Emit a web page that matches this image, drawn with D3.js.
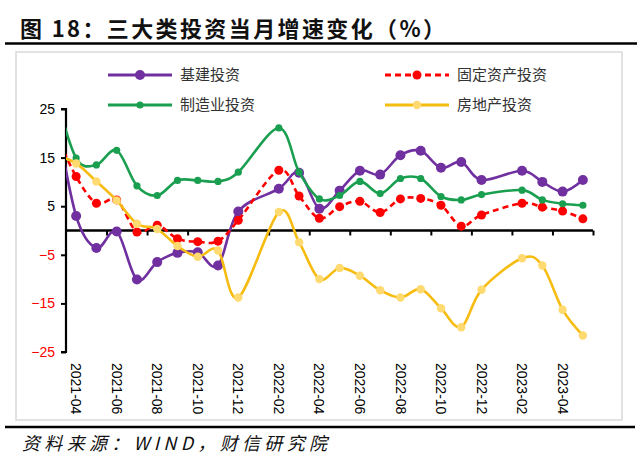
<!DOCTYPE html>
<html lang="zh">
<head>
<meta charset="UTF-8">
<title>三大类投资当月增速变化</title>
<script src="https://d3js.org/d3.v7.min.js"></script>
<style>
  body { margin: 0; background: #fff; }
  svg { display: block; }
</style>
</head>
<body>
<script>
    // months; 2021-03 sits left of the y axis and is clipped, as in the source chart
    const months = ["2021-03","2021-04","2021-05","2021-06","2021-07","2021-08","2021-09","2021-10","2021-11","2021-12",
        "2022-01","2022-02","2022-03","2022-04","2022-05","2022-06","2022-07","2022-08","2022-09","2022-10","2022-11","2022-12",
        "2023-01","2023-02","2023-03","2023-04","2023-05"];

    // single-month yoy growth, %  (January is not published -> null)
    const infra = [24, 3.0, -3.6, -0.2, -10.1, -6.5, -4.6, -4.5, -7.2, 3.9, null, 8.6, 11.9, 4.5, 8.2, 12.3, 11.5, 15.5, 16.4, 12.9, 14.1, 10.4, null, 12.3, 10.0, 8.0, 10.4];
    const fai = [20, 11.1, 5.6, 6.3, -0.3, 1.1, -1.7, -2.3, -2.2, 2.1, null, 12.4, 7.1, 2.5, 4.9, 6.0, 3.7, 6.5, 6.6, 5.2, 0.9, 3.2, null, 5.6, 4.8, 4.0, 2.4];
    const mfg = [28, 14.9, 13.5, 16.5, 9.2, 7.2, 10.3, 10.3, 10.1, 12.0, null, 21.1, 12.0, 6.5, 7.2, 10.1, 7.6, 10.7, 10.7, 7.0, 6.3, 7.4, null, 8.3, 6.3, 5.5, 5.2];
    const realEstate = [15.5, 13.8, 10.1, 6.2, 1.4, 0.3, -3.2, -5.4, -4.1, -13.8, null, 3.8, -2.4, -10.0, -7.7, -9.3, -12.3, -13.8, -12.1, -16.0, -19.9, -12.2, null, -5.7, -7.2, -16.3, -21.6];

    const seriesNames = ["基建投资", "固定资产投资", "制造业投资", "房地产投资"];
    const yTicks = [25, 15, 5, -5, -15, -25];
    const xLabelMonths = ["2021-04","2021-06","2021-08","2021-10","2021-12","2022-02","2022-04","2022-06","2022-08","2022-10","2022-12","2023-02","2023-04"];

    const series = [
        { name: seriesNames[0], values: infra, color: "#7030A0", marker: "#7030A0", r: 5, dash: null },
        { name: seriesNames[1], values: fai, color: "#FF0000", marker: "#FF0000", r: 4.5, dash: "6,4" },
        { name: seriesNames[2], values: mfg, color: "#1A9F50", marker: "#1A9F50", r: 3.6, dash: null },
        { name: seriesNames[3], values: realEstate, color: "#F6BC12", marker: "#FFDA70", r: 4.2, dash: null }
    ];

    const W = 640, H = 461;
    const svg = d3.select("body").append("svg")
        .attr("width", W)
        .attr("height", H);

    const cjk = "'Noto Sans CJK SC', 'Noto Sans', sans-serif";
    const num = "'Liberation Sans', Arial, sans-serif";

    // title
    svg.append("text")
        .attr("x", 20).attr("y", 37)
        .attr("textLength", 425)
        .attr("lengthAdjust", "spacing")
        .style("font-family", cjk)
        .style("font-size", "22px")
        .style("font-weight", "bold")
        .style("fill", "#111")
        .text("图 18：三大类投资当月增速变化（%）");

    svg.append("line")
        .attr("x1", 5).attr("x2", 637).attr("y1", 43.5).attr("y2", 43.5)
        .attr("stroke", "#000").attr("stroke-width", 2.5);

    // chart frame
    svg.append("rect")
        .attr("x", 16).attr("y", 52).attr("width", 606).attr("height", 368)
        .attr("fill", "#fff").attr("stroke", "#d9d9d9").attr("stroke-width", 1.5);

    svg.append("line")
        .attr("x1", 5).attr("x2", 635).attr("y1", 427).attr("y2", 427)
        .attr("stroke", "#000").attr("stroke-width", 2.5);

    svg.append("text")
        .attr("x", 22).attr("y", 450)
        .attr("textLength", 305)
        .attr("lengthAdjust", "spacing")
        .style("font-family", cjk)
        .style("font-size", "18px")
        .style("font-style", "italic")
        .style("fill", "#111")
        .text("资料来源：WIND，财信研究院");

    // scales
    const x = d3.scaleLinear().domain([0.5, months.length - 0.5]).range([66, 593]);
    const y = d3.scaleLinear().domain([-25, 25]).range([352, 109]);

    // clip so the lead-in month is cut at the y axis
    svg.append("clipPath").attr("id", "plot")
        .append("rect").attr("x", 66).attr("y", 95).attr("width", 545).attr("height", 270);

    // y axis
    const yAxis = svg.append("g")
        .attr("transform", "translate(66,0)")
        .call(d3.axisLeft(y).tickValues(yTicks).tickSize(5).tickPadding(6).tickFormat(d3.format("d")));
    yAxis.select(".domain").attr("stroke", "#000").attr("stroke-width", 2.2)
        .attr("d", `M-5,${y(25)}H0V${y(-25)}H-5`);
    yAxis.selectAll(".tick line").attr("stroke", "#000").attr("stroke-width", 2);
    yAxis.selectAll(".tick text")
        .style("font-family", num).style("font-size", "14px")
        .style("fill", d => d < 0 ? "#FF0000" : "#000");

    // x axis at zero, ticks every two months between categories
    const tickPos = d3.range(2.5, months.length, 2);
    const xAxis = svg.append("g")
        .attr("transform", `translate(0,${y(0)})`)
        .call(d3.axisBottom(x).tickValues(tickPos).tickSize(5).tickFormat(""));
    xAxis.select(".domain").attr("stroke", "#000").attr("stroke-width", 2.5)
        .attr("d", `M${x(0.5)},0H${x(months.length - 0.5)}`);
    xAxis.selectAll(".tick line").attr("stroke", "#000").attr("stroke-width", 2);

    svg.append("g").selectAll("text")
        .data(xLabelMonths)
        .join("text")
        .attr("transform", d => `translate(${x(months.indexOf(d))},363) rotate(90)`)
        .attr("dy", "0.35em")
        .style("font-family", num)
        .style("font-size", "14px")
        .style("fill", "#000")
        .text(d => d);

    // lines
    const line = d3.line()
        .x(d => x(d.i))
        .y(d => y(d.v))
        .curve(d3.curveCatmullRom.alpha(0));

    const plot = svg.append("g").attr("clip-path", "url(#plot)");

    series.forEach(s => {
        const pts = s.values.map((v, i) => ({ i, v })).filter(d => d.v !== null);
        const g = plot.append("g");
        g.append("path")
            .attr("d", line(pts))
            .attr("fill", "none")
            .attr("stroke", s.color)
            .attr("stroke-width", 2.6)
            .attr("stroke-dasharray", s.dash);
        g.selectAll("circle")
            .data(pts.filter(d => d.i > 0))
            .join("circle")
            .attr("cx", d => x(d.i))
            .attr("cy", d => y(d.v))
            .attr("r", s.r)
            .attr("fill", s.marker);
    });

    // legend
    const legendPos = [[108, 75], [385, 75], [108, 105], [385, 105]];
    series.forEach((s, k) => {
        const [lx, ly] = legendPos[k];
        const g = svg.append("g").attr("transform", `translate(${lx},${ly})`);
        g.append("line")
            .attr("x1", 0).attr("x2", 64).attr("y1", 0).attr("y2", 0)
            .attr("stroke", s.color).attr("stroke-width", 3)
            .attr("stroke-dasharray", s.dash);
        g.append("circle").attr("cx", 32).attr("cy", 0).attr("r", s.r).attr("fill", s.marker);
        g.append("text")
            .attr("x", 72).attr("y", 0).attr("dy", "0.35em")
            .style("font-family", cjk)
            .style("font-size", "15px")
            .style("fill", "#333")
            .text(s.name);
    });
</script>
</body>
</html>
